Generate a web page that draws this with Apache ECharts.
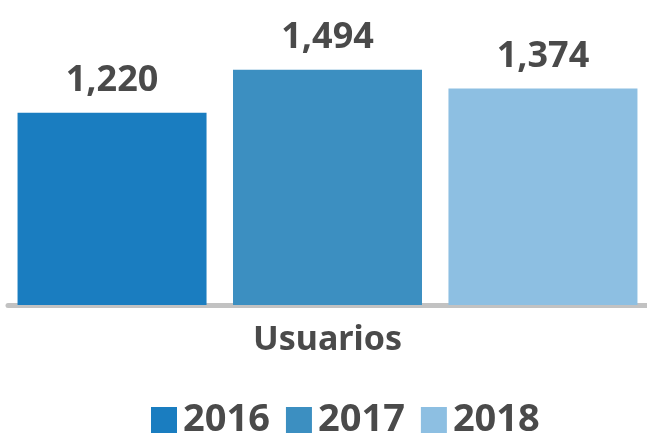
<!DOCTYPE html>
<html><head><meta charset="utf-8">
<script src="https://cdn.jsdelivr.net/npm/echarts@6/dist/echarts.min.js"></script>
<style>html,body{margin:0;padding:0;background:#fff}#c{width:647px;height:441px}</style>
</head><body><div id="c"></div>
<script>
const categories = ['Usuarios'];
const seriesNames = ['2016', '2017', '2018'];
const values2016 = [1220];
const values2017 = [1494];
const values2018 = [1374];
const colors = ['#1a7dc0', '#3c8fc1', '#8dbfe2'];
const allValues = [values2016, values2017, values2018];
const FONT = '"Noto Sans", sans-serif';
const chart = echarts.init(document.getElementById('c'));
chart.setOption({
  animation: false,
  backgroundColor: '#fff',
  grid: { left: 8, right: 0, top: 53, bottom: 136 },
  legend: {
    data: seriesNames, left: 146, top: 396, itemWidth: 26, itemHeight: 26, itemGap: 16,
    icon: 'rect',
    textStyle: { fontFamily: FONT, fontWeight: 'bold', fontSize: 38, color: '#4a4a4a', padding: [0,0,0,1] }
  },
  xAxis: {
    type: 'category', data: categories,
    axisLine: { lineStyle: { color: '#c2c2c2', width: 5 } },
    axisTick: { show: false },
    axisLabel: { fontFamily: FONT, fontWeight: 'bold', fontSize: 34, color: '#4a4a4a', margin: 18 }
  },
  yAxis: { type: 'value', min: 0, max: 1600, show: false, splitLine: { show: false } },
  series: seriesNames.map((n, i) => ({
    name: n, type: 'bar', data: allValues[i], barWidth: 189, barGap: '14%',
    itemStyle: { color: colors[i] },
    label: {
      show: true, position: 'top', distance: 14,
      formatter: p => p.value.toLocaleString('en-US'),
      fontFamily: FONT, fontWeight: 'bold', fontSize: 36, color: '#4a4a4a'
    }
  }))
});
</script></body></html>
